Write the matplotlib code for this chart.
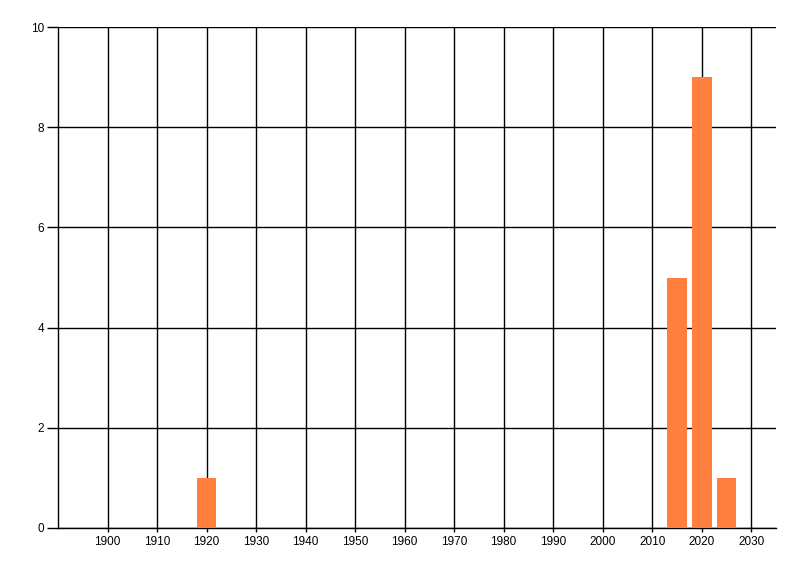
import matplotlib
matplotlib.use("Agg")
import matplotlib.pyplot as plt
import numpy as np

# data
years = [1920, 2015, 2020, 2025]
counts = [1, 5, 9, 1]
xticks = list(range(1900, 2031, 10))
yticks = [0, 2, 4, 6, 8, 10]

plt.rcParams['font.family'] = ['Liberation Sans', 'DejaVu Sans']

fig = plt.figure(figsize=(8, 5.76), dpi=100)
ax = fig.add_axes([58/800, 48/576, 718/800, 501/576])

ax.bar(years, counts, width=4, color='#ff7f3f', zorder=3)

ax.set_xlim(1890, 2035)
ax.set_ylim(0, 10)
ax.set_xticks(xticks)
ax.set_yticks(yticks)
ax.grid(True, color='black', linewidth=1, zorder=1)
ax.set_axisbelow(True)

for side in ['top', 'right']:
    ax.spines[side].set_visible(False)
ax.spines['left'].set_linewidth(1)
ax.spines['bottom'].set_linewidth(1)
ax.tick_params(axis='y', length=8, width=1, labelsize=8.5, pad=2)
ax.tick_params(axis='x', length=3, width=1, labelsize=8.5, pad=3)

fig.savefig("out.png")
